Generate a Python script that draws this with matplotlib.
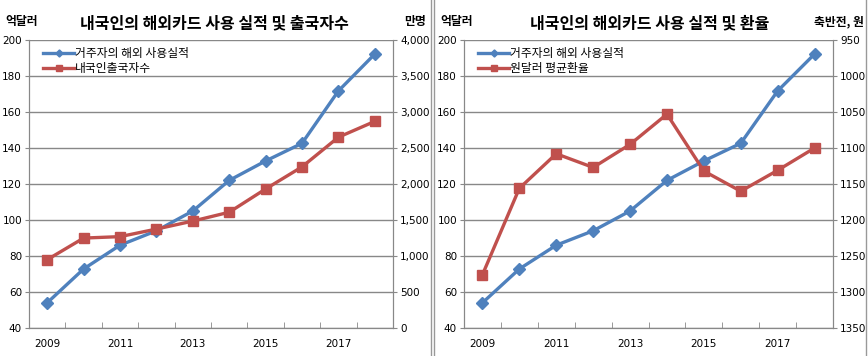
import matplotlib.pyplot as plt
import numpy as np
from matplotlib.lines import Line2D

plt.rcParams['font.family'] = ['Noto Sans CJK KR', 'DejaVu Sans']

# 데이터
years = [2009, 2010, 2011, 2012, 2013, 2014, 2015, 2016, 2017, 2018]
card_usage = [54, 72.8, 86, 94, 105, 122, 132.8, 142.6, 171.7, 192.2]      # 억달러
departures = [949, 1249, 1269, 1374, 1485, 1608, 1931, 2238, 2650, 2870]  # 만명
fx_rate = [1276, 1156, 1108, 1127, 1095, 1053, 1132, 1160, 1131, 1100]    # 원/달러

blue = '#4F81BD'
red = '#C0504D'
grid_c = '#888888'

fig = plt.figure(figsize=(8.68, 3.56), dpi=100)
W, H = 868, 356


def style_ticks(a):
    for lab in a.get_xticklabels() + a.get_yticklabels():
        lab.set_fontfamily('DejaVu Sans')
        lab.set_fontsize(7.5)


def make_ax(x0, x1, right_vals, right_lim, right_ticks, right_fmt, red_label,
            title, title_x, unit_r, unit_r_x):
    ax = fig.add_axes([x0 / W, (H - 328) / H, (x1 - x0) / W, 288 / H])
    x = np.arange(len(years))
    ax.plot(x, card_usage, color=blue, lw=2.4, marker='D', ms=6,
            label='거주자의 해외 사용실적', zorder=3)
    ax.set_xlim(-0.5, 9.5)
    ax.set_ylim(40, 200)
    ax.set_yticks(range(40, 201, 20))
    ax.yaxis.grid(True, color=grid_c, lw=1)
    ax.set_xticks(x[::2])
    ax.set_xticklabels([str(y) for y in years[::2]])
    ax.set_xticks(np.arange(-0.5, 10, 1), minor=True)
    ax.tick_params(axis='x', which='major', length=0, pad=8)
    ax.tick_params(axis='x', which='minor', length=4, direction='in', color=grid_c)
    ax.tick_params(axis='y', length=3, color=grid_c, pad=2)
    for s in ax.spines.values():
        s.set_color(grid_c)
    ax.spines['top'].set_visible(False)
    style_ticks(ax)

    ax2 = ax.twinx()
    ax2.plot(x, right_vals, color=red, lw=2.4, marker='s', ms=7,
             label=red_label, zorder=3)
    ax2.set_ylim(*right_lim)
    ax2.set_yticks(right_ticks)
    ax2.set_yticklabels([right_fmt(v) for v in right_ticks])
    ax2.tick_params(axis='y', length=3, color=grid_c, pad=2)
    for s in ax2.spines.values():
        s.set_color(grid_c)
    ax2.spines['top'].set_visible(False)
    style_ticks(ax2)

    h1, l1 = ax.get_legend_handles_labels()
    h2, l2 = ax2.get_legend_handles_labels()
    ax.legend(h1 + h2, l1 + l2, loc='upper left', frameon=False, fontsize=8.5,
              handlelength=2.6, handletextpad=0.1, labelspacing=0.2,
              borderaxespad=0.2, bbox_to_anchor=(0.02, 1.0), markerscale=0.6)

    fig.text(title_x / W, 1 - 23 / H, title, ha='center', va='center',
             fontsize=11.5, fontweight='bold')
    fig.text((x0 - 24) / W, 1 - 22 / H, '억달러', ha='left', va='center',
             fontsize=8.5, fontweight='bold')
    fig.text(unit_r_x / W, 1 - 22 / H, unit_r, ha='right', va='center',
             fontsize=8.5, fontweight='bold')
    return ax, ax2


make_ax(29, 393, departures, (0, 4000), range(0, 4001, 500),
        lambda v: f'{v:,}', '내국인출국자수',
        '내국인의 해외카드 사용 실적 및 출국자수', 214, '만명', 426)
make_ax(464, 833, fx_rate, (1350, 950), range(950, 1351, 50),
        lambda v: f'{v}', '원달러 평균환율',
        '내국인의 해외카드 사용 실적 및 환율', 650, '축반전, 원', 864)

# 구분선
for xp in (431, 434, 866):
    fig.add_artist(Line2D([xp / W, xp / W], [0, 1], color='#999999', lw=1))

plt.savefig('out.png', dpi=100)
